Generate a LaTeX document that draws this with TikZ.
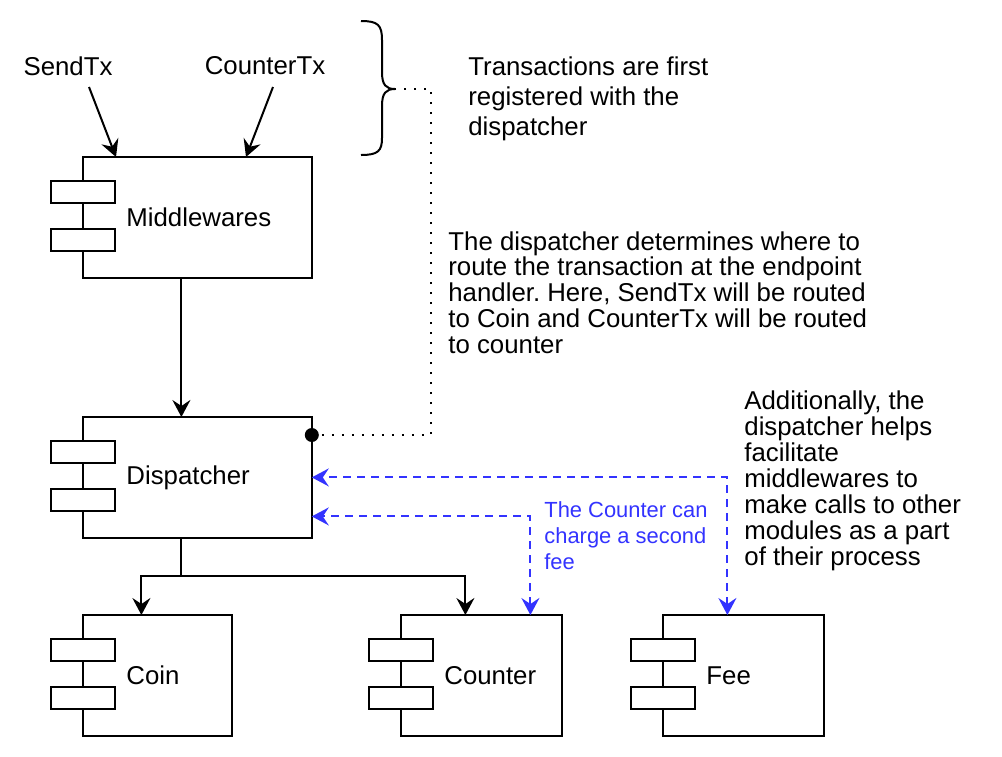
\documentclass[tikz,border=0pt]{standalone}
\usepackage{fontspec}
\setmainfont{Liberation Sans}
\usetikzlibrary{arrows.meta}
\definecolor{tipblue}{RGB}{51,51,255}
\frenchspacing

\begin{document}
\begin{tikzpicture}[x=0.5pt,y=-0.5pt,>={Stealth[length=8.5pt,width=9pt,inset=3pt]},
	module/.style={inner sep=0pt,minimum height=60pt,anchor=north west},
	boxline/.style={line width=1pt},
	lbl/.style={anchor=west,inner sep=0pt,xshift=37.5pt,font=\fontsize{12.9}{12.9}\selectfont},
	txt/.style={inner sep=0pt,font=\fontsize{12.9}{12.9}\selectfont},
	para/.style={inner sep=0pt,align=left,anchor=north west},
	arr/.style={->,line width=1pt},
	tipline/.style={<->,line width=1pt,color=tipblue,dash pattern=on 4pt off 3pt},
	dotline/.style={line width=1pt,dash pattern=on 1pt off 4pt}]

\useasboundingbox (0,0) rectangle (1002,756);

% modules
\node[module,minimum width=130pt,label={[lbl]west:Middlewares}] (mw) at (51,157) {};
\node[module,minimum width=130pt,label={[lbl]west:Dispatcher}] (disp) at (51,417) {};
\node[module,minimum width=90pt,label={[lbl]west:Coin}] (coin) at (51,615) {};
\node[module,minimum width=96pt,label={[lbl]west:Counter}] (ctr) at (369,615) {};
\node[module,minimum width=96pt,label={[lbl]west:Fee}] (fee) at (631,615) {};

\foreach \m in {mw,disp,coin,ctr,fee}{
	\draw[boxline] ([xshift=16pt]\m.north west) rectangle (\m.south east);
	\draw[boxline,fill=white] ([shift={(0,24)}]\m.north west) rectangle ++(64,22);
	\draw[boxline,fill=white] ([shift={(0,72)}]\m.north west) rectangle ++(64,22);
}

% transactions
\node[txt] (send) at (68,66) {SendTx};
\node[txt] (ctx) at (265,66) {CounterTx};
\draw[arr] ([shift={(21,21)}]send.center) -- ([xshift=32.5pt]mw.north west);
\draw[arr] ([shift={(8,21)}]ctx.center) -- ([xshift=97.5pt]mw.north west);

\draw[arr] (mw.south) -- (disp.north);
\draw[arr] (disp.south) -- ++(0,38) -| (coin.north);
\draw[arr] (disp.south) -- ++(0,38) -| (ctr.north);

% calls back to the dispatcher
\draw[tipline] ([xshift=32.5pt]ctr.north) |- ([shift={(0,39)}]disp.east);
\draw[tipline] (fee.north) |- (disp.east);

% brace and dotted connector
\draw[boxline,line join=round] (361,21) .. controls (378,21) and (382,25) .. (382,40)
	-- (382,72) .. controls (382,85) and (386,89) .. (395,89)
	.. controls (386,89) and (382,93) .. (382,106)
	-- (382,138) .. controls (382,151) and (378,155) .. (361,155);
\coordinate (bracetip) at (395,89);
\coordinate (dot) at ([shift={(0,18)}]disp.north east);
\draw[dotline] (dot) -| ([shift={(36,0)}]bracetip) -- (bracetip);
\fill (dot) circle[radius=3.5pt];

% notes
\node[para,font=\fontsize{12.9}{15}\selectfont] (note1) at (468,56)
	{Transactions are first\\registered with the\\dispatcher};
\node[para,font=\fontsize{12.9}{12.9}\selectfont] (note2) at (448,231)
	{The dispatcher determines where to\\route the transaction at the endpoint\\handler. Here, SendTx will be routed\\to Coin and CounterTx will be routed\\to counter};
\node[para,font=\fontsize{12.9}{13}\selectfont] (note3) at (744,390)
	{Additionally, the\\dispatcher helps\\facilitate\\middlewares to\\make calls to other\\modules as a part\\of their process};
\node[para,text=tipblue,font=\fontsize{10.95}{13}\selectfont] (note4) at (544,501)
	{The Counter can\\charge a second\\fee};

\end{tikzpicture}
\end{document}
